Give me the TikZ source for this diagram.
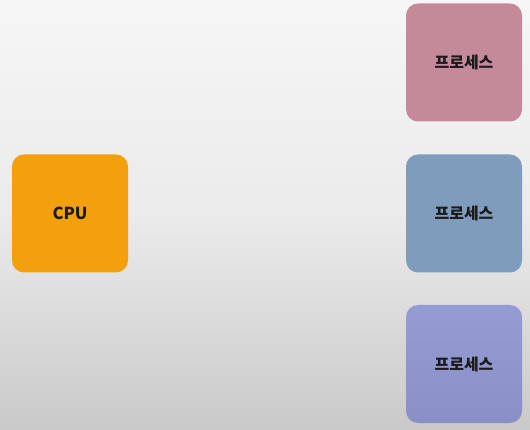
\documentclass[tikz,border=0pt]{standalone}
\usepackage{fontspec}
\newfontfamily\kr{Noto Sans CJK KR}[BoldFont={* Black}]
\definecolor{cpuc}{HTML}{F4A00C}
\definecolor{pinkc}{HTML}{C48A9A}
\definecolor{bluec}{HTML}{7F9CBC}
\definecolor{purpc}{HTML}{959BD3}
\definecolor{purpb}{HTML}{8A8FC8}
\definecolor{bgtop}{HTML}{F6F6F6}
\definecolor{bgbot}{HTML}{C9C9C9}
\definecolor{txt}{HTML}{1A1A1A}
\tikzset{
  box/.style={rounded corners=12pt, minimum width=116pt, minimum height=118pt, inner sep=0pt, text=txt, font=\kr\bfseries\fontsize{16}{19}\selectfont},
}
\begin{document}
\begin{tikzpicture}[x=1pt,y=-1pt]
\useasboundingbox (0,0) rectangle (530,430);
\shade[top color=bgtop, bottom color=bgbot, middle color=bgtop!75!bgbot] (0,0) rectangle (530,430);
\node[box, fill=cpuc, font=\kr\bfseries\fontsize{16.5}{20}\selectfont] (cpu) at (70,213.5) {CPU};
\node[box, fill=pinkc] (p1) at (464,62.5) {프로세스};
\node[box, fill=bluec] (p2) at (464,213.5) {프로세스};
\node[box, top color=purpc, bottom color=purpb] (p3) at (464,364) {프로세스};
\end{tikzpicture}
\end{document}
